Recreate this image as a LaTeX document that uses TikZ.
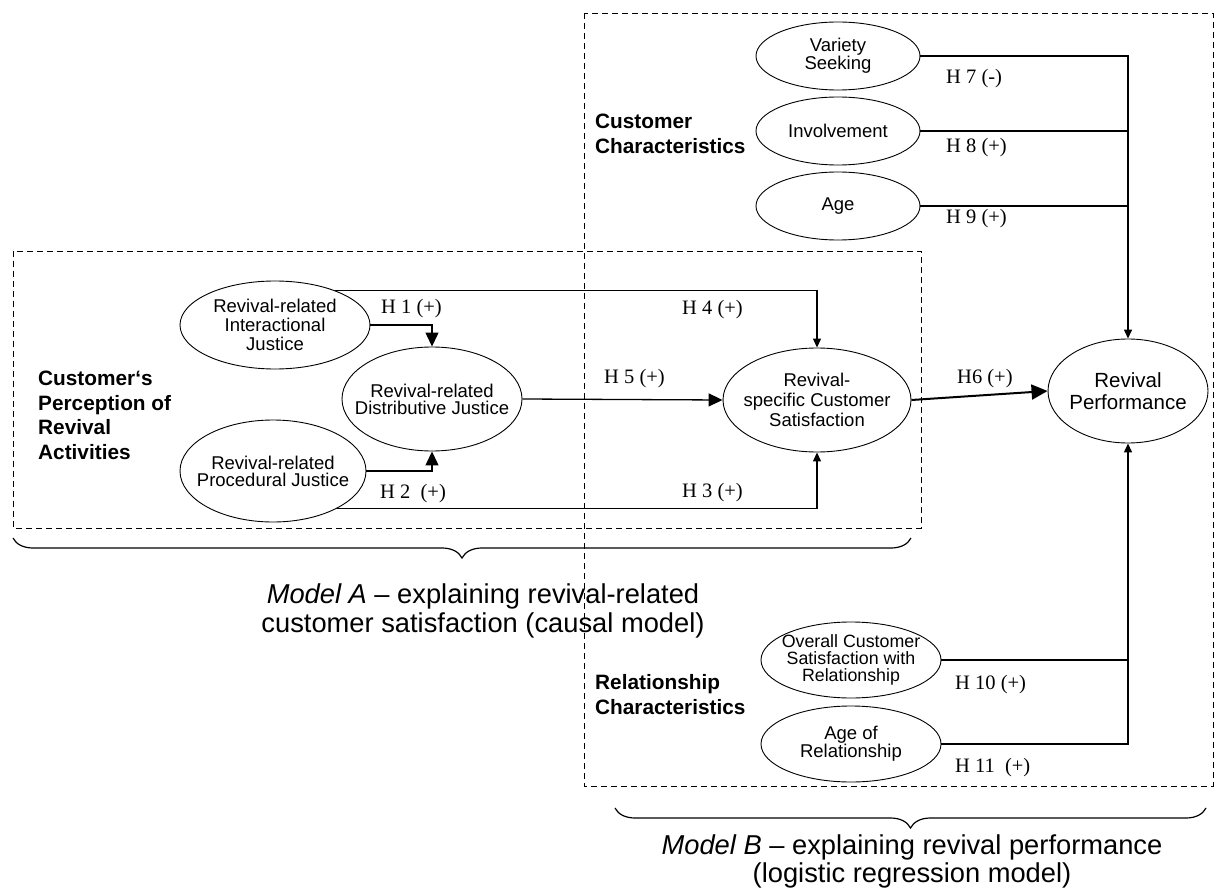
\documentclass[tikz,border=0pt]{standalone}
\usepackage{fontspec}
\setmainfont{Liberation Serif}
\setsansfont{Liberation Sans}
\usetikzlibrary{arrows.meta,shapes.geometric,decorations.pathreplacing}

\begin{document}
\begin{tikzpicture}[x=1pt,y=-1pt,
    construct/.style={draw,ellipse,line width=0.9pt,inner sep=0pt},
    ctext/.style={align=center,font=\sffamily\fontsize{18.5}{#1}\selectfont},
    ctext/.default=17,
    hyp/.style={anchor=west,inner sep=0pt,font=\fontsize{20.5}{22}\selectfont},
    group/.style={anchor=west,align=left,inner sep=0pt,
      font=\sffamily\bfseries\fontsize{20.8}{24.5}\selectfont},
    link/.style={line width=1.3pt},
    bigtip/.style={-{Triangle[length=14pt,width=13pt]}},
    smalltip/.style={-{Triangle[length=9pt,width=8pt]}},
    frame/.style={line width=0.8pt,dash pattern=on 6pt off 4pt},
    modeltext/.style={align=center,inner sep=0pt,
      font=\sffamily\fontsize{27.3}{28.5}\selectfont},
    curly/.style={line width=1.2pt,decorate,
      decoration={brace,mirror,amplitude=20pt}}
  ]
  \useasboundingbox (0,0) rectangle (1215,893);

  %%%%%%%%%%%%%%%%%%%%%%%%%%%%%%%%%%%%%%%%%%%%%%%%%%%%%%%%%%%%%%%%%%%%%%%%%%%
  %%%%  dashed frames
  \draw[frame] (13,251) rectangle (921,528);
  \draw[frame] (584,13) rectangle (1213,786);

  %%%%%%%%%%%%%%%%%%%%%%%%%%%%%%%%%%%%%%%%%%%%%%%%%%%%%%%%%%%%%%%%%%%%%%%%%%%
  %%%%  Model A
  \node[group] (custperc) at (38,415.5) {Customer‘s\\Perception of\\Revival\\Activities};

  \node[construct,minimum width=190pt,minimum height=88pt,
    label={[ctext=19]center:Revival-related\\Interactional\\Justice}] (inter) at (275,325) {};
  \node[construct,minimum width=180pt,minimum height=104pt,
    label={[ctext]center:Revival-related\\Distributive Justice}] (distr) at (432,399) {};
  \node[construct,minimum width=186pt,minimum height=102pt,
    label={[ctext]center:Revival-related\\Procedural Justice}] (proc) at (273,471) {};
  \node[construct,minimum width=188pt,minimum height=104pt,
    label={[ctext=20]center:Revival-\\specific Customer\\Satisfaction}] (sat) at (817,400) {};

  %%%%%%%%%%%%%%%%%%%%%%%%%%%%%%%%%%%%%%%%%%%%%%%%%%%%%%%%%%%%%%%%%%%%%%%%%%%
  %%%%  Model B
  \node[construct,minimum width=160pt,minimum height=104pt,
    label={[align=center,font=\sffamily\fontsize{20.5}{22}\selectfont]center:Revival\\Performance}] (perf) at (1128,391) {};

  \node[group] (custchar) at (595,134) {Customer\\Characteristics};
  \foreach \name/\ypos/\txt in {var/56/{Variety\\Seeking},inv/131/Involvement,age/206/Age}
    \node[construct,minimum width=164pt,minimum height=68pt,
      label={[ctext]center:\txt}] (\name) at (838,\ypos) {};

  \node[group] (relchar) at (595,694.5) {Relationship\\Characteristics};
  \node[construct,minimum width=180pt,minimum height=76pt,
    label={[align=center,font=\sffamily\fontsize{17.8}{17}\selectfont]center:Overall Customer\\Satisfaction with\\Relationship}] (overall) at (851,660) {};
  \node[construct,minimum width=180pt,minimum height=76pt,
    label={[ctext]center:Age of\\Relationship}] (agerel) at (851,744) {};

  %%%%%%%%%%%%%%%%%%%%%%%%%%%%%%%%%%%%%%%%%%%%%%%%%%%%%%%%%%%%%%%%%%%%%%%%%%%
  %%%%  hypotheses
  \draw[link,bigtip] (inter.east) -| (distr.north);
  \draw[link,bigtip] (proc.east) -| (distr.south);
  \draw[link,smalltip] (proc.-30) -| (sat.south);
  \draw[link,smalltip] (inter.30) -| (sat.north);
  \draw[link,bigtip] (distr.east) -- (sat.west);
  \draw[line width=2pt,-{Triangle[length=16pt,width=15pt]}] (sat.east) -- (perf.west);

  \draw[link,smalltip] (var.east) -| (perf.north);
  \draw[link] (inv.east) -- (inv.east -| perf.north);
  \draw[link] (age.east) -- (age.east -| perf.north);
  \draw[link,smalltip] (agerel.east) -| (perf.south);
  \draw[link] (overall.east) -- (overall.east -| perf.south);

  \node[hyp] (h1) at (381,309) {H 1 (+)};
  \node[hyp] (h2) at (380,494) {H 2\ \ (+)};
  \node[hyp] (h3) at (682,493) {H 3 (+)};
  \node[hyp] (h4) at (682,310) {H 4 (+)};
  \node[hyp] (h5) at (604,379) {H 5 (+)};
  \node[hyp] (h6) at (957,379) {H6 (+)};
  \node[hyp] (h7) at (946,79) {H 7 (-)};
  \node[hyp] (h8) at (946,148) {H 8 (+)};
  \node[hyp] (h9) at (946,219) {H 9 (+)};
  \node[hyp] (h10) at (955,685) {H 10 (+)};
  \node[hyp] (h11) at (955,768) {H 11\ \ (+)};

  %%%%%%%%%%%%%%%%%%%%%%%%%%%%%%%%%%%%%%%%%%%%%%%%%%%%%%%%%%%%%%%%%%%%%%%%%%%
  %%%%  braces
  \draw[curly] (13,538) -- (911,538);
  \draw[curly] (615,808) -- (1206,808);
  \node[modeltext] (modela) at (483,611)
    {\textit{Model A} – explaining revival-related\\customer satisfaction (causal model)};
  \node[modeltext] (modelb) at (912,861.5)
    {\textit{Model B} – explaining revival performance\\(logistic regression model)};
\end{tikzpicture}
\end{document}
